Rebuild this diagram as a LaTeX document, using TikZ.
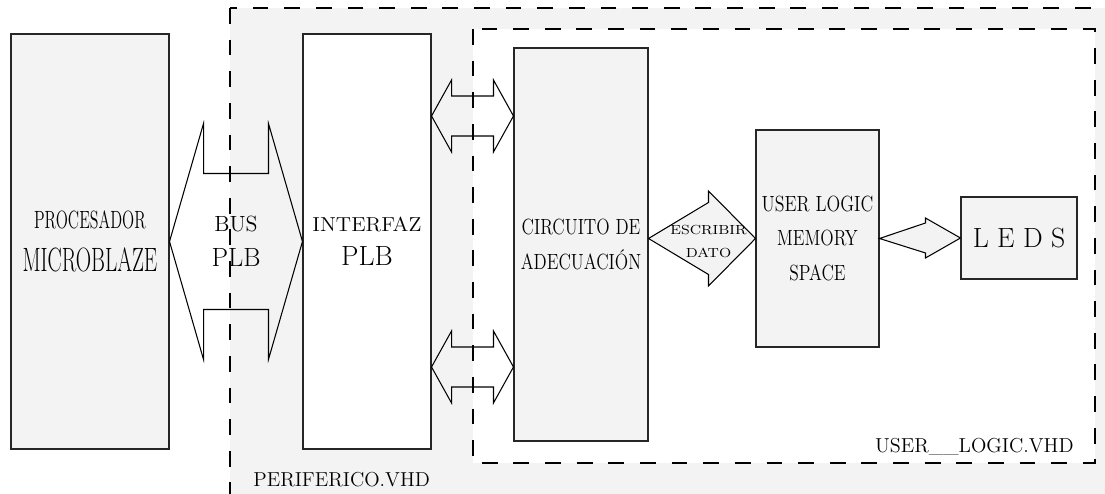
\documentclass[tikz,border=0pt]{standalone}
\usepackage{graphicx}
\usetikzlibrary{calc, positioning}
\definecolor{fondo}{RGB}{243,243,243}
\newcommand{\estr}[2][0.8]{\scalebox{#1}[1]{#2}}
\newcommand{\dflecha}[6][]{%
  \draw[flech,#1] (#2) -- ++(#4,#5) -- ++(0,#6-#5) -- ($(#3)+(-#4,#6)$) -- ++(0,#5-#6) -- (#3)
    -- ++(-#4,-#5) -- ++(0,#5-#6) -- ($(#2)+(#4,-#6)$) -- ++(0,#6-#5) -- cycle;}
\newcommand{\sflecha}[6][]{%
  \draw[flech,#1] (#2) -- ($(#3)+(-#4,#6)$) -- ++(0,#5-#6) -- (#3) -- ++(-#4,-#5) -- ++(0,#5-#6) -- cycle;}
\tikzset{
  blk/.style={draw=black!85, line width=0.6pt, fill=fondo, inner sep=0pt, align=center},
  blkw/.style={blk, fill=white},
  flech/.style={draw=black, line width=0.6pt, line join=miter},
  zona/.style={draw=black, line width=1.1pt, dash pattern=on 9pt off 9pt},
  etiq/.style={font=\fontsize{11.5}{12}\selectfont, inner sep=0pt}
}
\begin{document}
\begin{tikzpicture}
	\useasboundingbox (0,0) rectangle (22.1,9.88);
	\clip (0,0) rectangle (22.1,9.88);
	\draw[zona, fill=fondo] (4.6,9.72) rectangle (22.6,-0.5);
	\draw[zona, fill=white] (9.46,9.3) rectangle (21.9,0.62);
	\node[blk, minimum width=3.16cm, minimum height=8.3cm, font=\fontsize{14.2}{24.5}\selectfont] (micro) at (1.8,5.05)
		{\estr[0.64]{PROCESADOR}\\\estr[0.63]{\fontsize{19.2}{24.5}\selectfont MICROBLAZE}};
	\node[blkw, minimum width=2.56cm, minimum height=8.3cm, font=\fontsize{11.5}{19.5}\selectfont] (interfaz) at (7.34,5.05)
		{\estr[1.07]{INTERFAZ}\\{\fontsize{15.8}{19.5}\selectfont PLB}};
	\node[blk, minimum width=2.68cm, minimum height=7.86cm, font=\fontsize{12.5}{19.4}\selectfont] (circuito) at (11.62,4.99)
		{\estr{CIRCUITO DE}\\\estr{ADECUACIÓN}};
	\node[blk, minimum width=2.46cm, minimum height=4.34cm, font=\fontsize{12.5}{19.9}\selectfont] (ulogic) at (16.35,5.11)
		{\estr[0.82]{USER LOGIC}\\\estr{MEMORY}\\\estr{SPACE}};
	\node[blk, minimum width=2.32cm, minimum height=1.64cm, font=\fontsize{15.8}{18}\selectfont] (leds) at (20.38,5.12) {L E D S};
	\dflecha{micro.east}{interfaz.west}{0.68}{2.36}{1.36}
	\node[align=center, font=\fontsize{12.5}{20}\selectfont] (bus) at ($(micro.east)!0.5!(interfaz.west)$)
		{BUS\\{\fontsize{15}{20}\selectfont PLB}};
	\coordinate (a1) at ($(interfaz.east)+(0,2.51)$);
	\coordinate (b1) at (circuito.west |- a1);
	\coordinate (a2) at ($(interfaz.east)+(0,-2.51)$);
	\coordinate (b2) at (circuito.west |- a2);
	\dflecha{a1}{b1}{0.4}{0.72}{0.4}
	\dflecha{a2}{b2}{0.4}{0.72}{0.4}
	\coordinate (c1) at (circuito.east |- ulogic.west);
	\sflecha[fill=fondo]{c1}{ulogic.west}{0.94}{0.95}{0.72}
	\node[align=center, inner sep=0pt, font=\fontsize{7.5}{13}\selectfont, xshift=0.13cm, yshift=-0.06cm] (dato)
		at ($(c1)!0.5!(ulogic.west)$) {\estr[1.12]{ESCRIBIR}\\\estr[1.12]{DATO}};
	\sflecha[fill=fondo]{ulogic.east}{leds.west}{0.7}{0.4}{0.3}
	\node[etiq, anchor=base west] (lperif) at (5.06,0.14) {PERIFERICO.VHD};
	\node[etiq, anchor=base east] (lulogic) at (21.48,0.82) {USER\_\_LOGIC.VHD};
\end{tikzpicture}
\end{document}
